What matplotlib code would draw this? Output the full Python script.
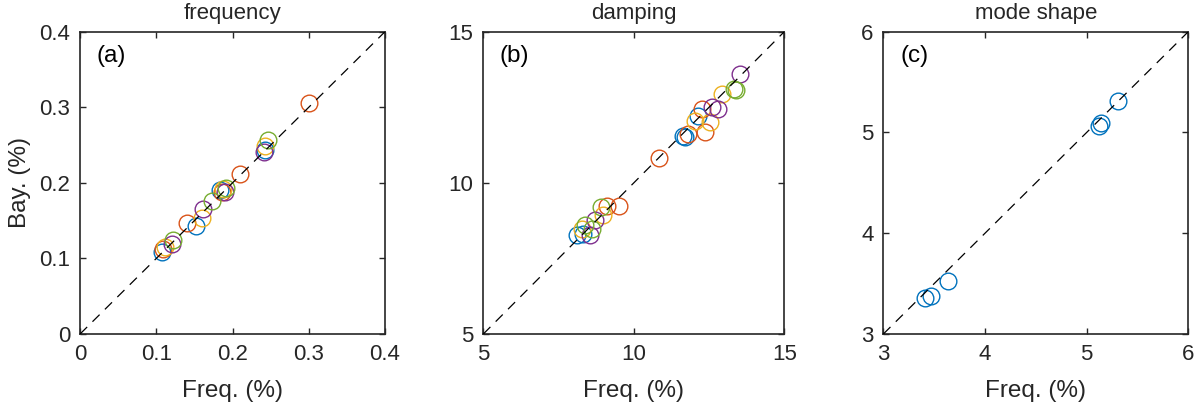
import matplotlib.pyplot as plt

plt.rcParams['font.family'] = ['Liberation Sans', 'DejaVu Sans']

colors = ['#0072BD', '#D95319', '#EDB120', '#7E2F8E', '#77AC30']

# (a) frequency: Freq. vs Bay. for each of five series
freq_x = [
    [0.108, 0.152, 0.183, 0.243],
    [0.109, 0.140, 0.186, 0.210, 0.300],
    [0.111, 0.160, 0.188, 0.242],
    [0.120, 0.161, 0.190, 0.241],
    [0.122, 0.173, 0.192, 0.246],
]
freq_y = [
    [0.109, 0.143, 0.190, 0.244],
    [0.113, 0.147, 0.188, 0.212, 0.305],
    [0.115, 0.154, 0.192, 0.249],
    [0.119, 0.165, 0.188, 0.241],
    [0.125, 0.176, 0.193, 0.257],
]

# (b) damping
damp_x = [
    [8.12, 8.30, 11.64, 11.70, 12.14],
    [9.10, 9.52, 10.84, 11.81, 12.26, 12.36],
    [8.27, 8.97, 12.03, 12.53, 12.92],
    [8.54, 8.71, 12.59, 12.81, 13.53],
    [8.38, 8.60, 8.90, 13.33, 13.38],
]
damp_y = [
    [8.26, 8.30, 11.55, 11.50, 12.22],
    [9.25, 9.25, 10.83, 11.61, 12.44, 11.67],
    [8.48, 8.94, 12.05, 12.02, 12.94],
    [8.26, 8.78, 12.50, 12.44, 13.61],
    [8.59, 8.48, 9.19, 13.11, 13.06],
]

# (c) mode shape
mode_x = [3.41, 3.47, 3.64, 5.12, 5.14, 5.31]
mode_y = [3.36, 3.38, 3.53, 5.06, 5.09, 5.31]

fig = plt.figure(figsize=(12.02, 4.12), dpi=100)
w, h, b = 0.2537, 0.7338, 0.1893
ax1 = fig.add_axes([0.0666, b, w, h])
ax2 = fig.add_axes([0.4021, b, 0.2504, h])
ax3 = fig.add_axes([0.7349, b, w, h])

mk = dict(marker='o', markersize=12, markerfacecolor='none', markeredgewidth=1.0, linestyle='none')


def style(ax, lim, ticks, title, tag):
    ax.plot(lim, lim, color='black', linestyle=(0, (8, 6)), linewidth=0.9, zorder=3)
    ax.set_xlim(lim)
    ax.set_ylim(lim)
    ax.set_xticks(ticks)
    ax.set_yticks(ticks)
    ax.tick_params(direction='in', top=True, right=True, length=4, width=1, pad=7,
                   labelsize=16, colors='#262626')
    for s in ax.spines.values():
        s.set_linewidth(1.2)
        s.set_color('#262626')
    ax.set_title(title, fontsize=16, color='#262626', pad=9)
    ax.set_xlabel('Freq. (%)', fontsize=17.5, color='#262626', labelpad=11)
    ax.text(0.055, 0.955, tag, transform=ax.transAxes, fontsize=17.5, va='top', ha='left')


for i in range(5):
    ax1.plot(freq_x[i], freq_y[i], color=colors[i], **mk)
    ax2.plot(damp_x[i], damp_y[i], color=colors[i], **mk)
ax3.plot(mode_x, mode_y, color=colors[0], **mk)

style(ax1, [0, 0.4], [0, 0.1, 0.2, 0.3, 0.4], 'frequency', '(a)')
style(ax2, [5, 15], [5, 10, 15], 'damping', '(b)')
style(ax3, [3, 6], [3, 4, 5, 6], 'mode shape', '(c)')
ax1.set_xticklabels(['0', '0.1', '0.2', '0.3', '0.4'])
ax1.set_yticklabels(['0', '0.1', '0.2', '0.3', '0.4'])
ax1.set_ylabel('Bay. (%)', fontsize=17.5, color='#262626', labelpad=6)

fig.savefig('out.png', dpi=100)
